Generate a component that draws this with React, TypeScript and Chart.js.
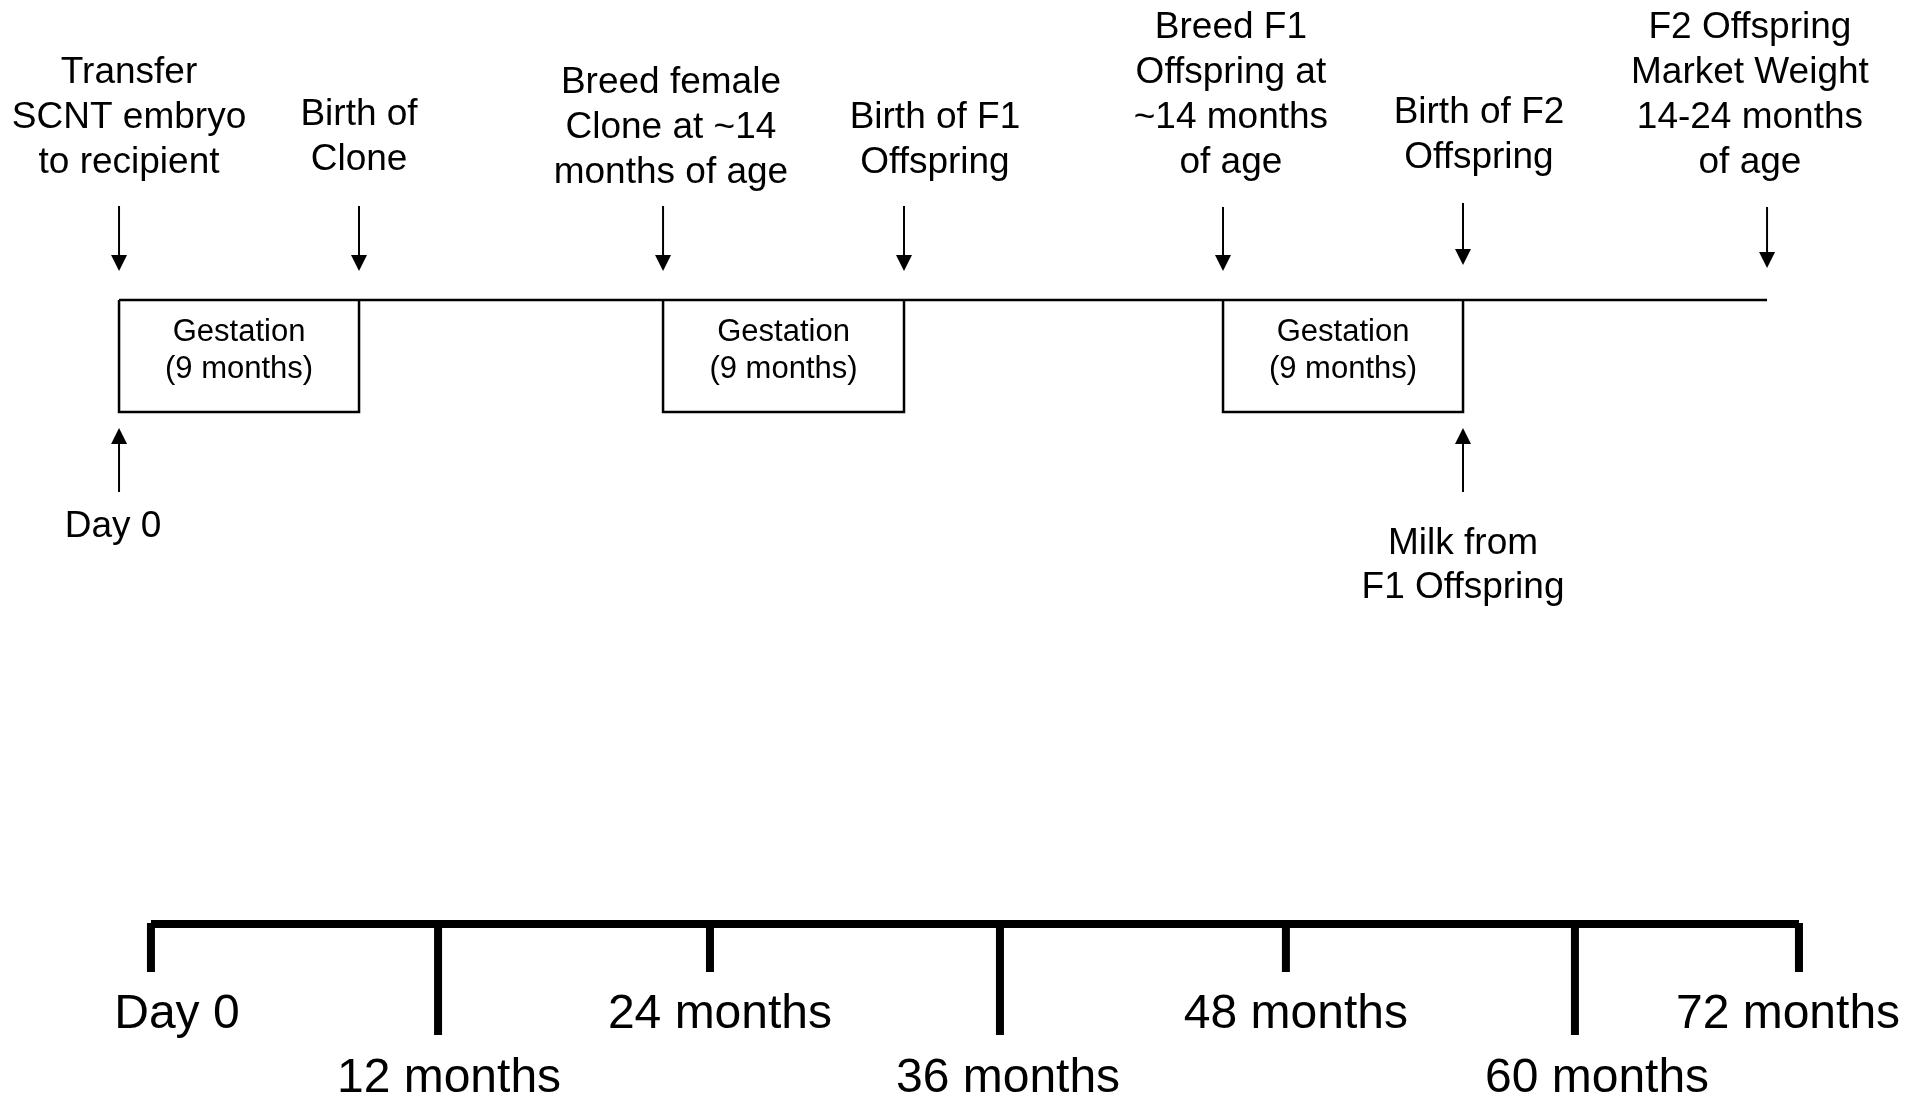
import { useEffect, useRef } from "react";
import { Chart, registerables } from "chart.js";

Chart.register(...registerables);

// ---------- data (x positions, in % of figure width) ----------
const eventPositions = [6.19, 18.67, 34.48, 47.01, 63.6, 76.08, 91.89];
const eventLabels = [
  ["Transfer", "SCNT embryo", "to recipient"],
  ["Birth of", "Clone"],
  ["Breed female", "Clone at ~14", "months of age"],
  ["Birth of F1", "Offspring"],
  ["Breed F1", "Offspring at", "~14 months", "of age"],
  ["Birth of F2", "Offspring"],
  ["F2 Offspring", "Market Weight", "14-24 months", "of age"],
];
const eventLabelCenters = [6.71, 18.67, 34.89, 48.62, 64.01, 76.91, 91.0];
const gestationStartEvents = [0, 2, 4];
const gestationLabel = ["Gestation", "(9 months)"];
const noteLabels = [["Day 0"], ["Milk from", "F1 Offspring"]];
const notePositions = [6.19, 76.08];
const noteLabelCenters = [5.88, 76.08];
const axisTickLabels = ["Day 0", "12 months", "24 months", "36 months", "48 months", "60 months", "72 months"];
const axisTickPositions = [7.85, 22.78, 36.92, 52.0, 66.87, 81.9, 93.55];
const axisLabelPositions = [9.2, 23.35, 37.44, 52.42, 67.39, 83.05, 92.98];

// ---------- layout (vertical rows, styles) ----------
const W = 1923;
const H = 1100;
const FONT = '"Liberation Sans", Arial, sans-serif';
const Y_TIMELINE = 300;
const Y_BOX_BOTTOM = 412;
const Y_AXIS = 924;
const Y_TICK_SHORT = 972;
const Y_TICK_LONG = 1035;
const labelFirstBaseline = [83, 125, 93, 128, 38, 123, 38];
const arrowTop = [206, 206, 206, 206, 207, 203, 207];
const arrowTip = [271, 271, 271, 271, 271, 265, 268];
const upArrowTip = 428;
const upArrowBottom = 492;
const noteFirstBaseline = [537, 554];

export default function App() {
  const ref = useRef<HTMLCanvasElement | null>(null);

  useEffect(() => {
    document.body.style.margin = "0";
    document.body.style.overflow = "hidden";
    const canvas = ref.current;
    if (!canvas) return;

    const datasets: any[] = [];
    const lineDs = (data: { x: number; y: number }[], width: number) => ({
      type: "line",
      data,
      borderColor: "#000",
      borderWidth: width,
      pointRadius: 0,
      showLine: true,
      fill: false,
      tension: 0,
      clip: false,
      borderCapStyle: "butt",
      borderJoinStyle: "miter",
    });

    // top timeline
    datasets.push(
      lineDs(
        [
          { x: eventPositions[0], y: Y_TIMELINE },
          { x: eventPositions[eventPositions.length - 1], y: Y_TIMELINE },
        ],
        2.5
      )
    );
    // gestation boxes
    gestationStartEvents.forEach((i) => {
      const a = eventPositions[i];
      const b = eventPositions[i + 1];
      datasets.push(
        lineDs(
          [
            { x: a, y: Y_TIMELINE },
            { x: a, y: Y_BOX_BOTTOM },
            { x: b, y: Y_BOX_BOTTOM },
            { x: b, y: Y_TIMELINE },
          ],
          2.5
        )
      );
    });
    // bottom axis
    datasets.push(
      lineDs(
        [
          { x: axisTickPositions[0], y: Y_AXIS },
          { x: axisTickPositions[axisTickPositions.length - 1], y: Y_AXIS },
        ],
        8
      )
    );
    axisTickPositions.forEach((p, i) => {
      datasets.push(
        lineDs(
          [
            { x: p, y: Y_AXIS - 1 },
            { x: p, y: i % 2 === 0 ? Y_TICK_SHORT : Y_TICK_LONG },
          ],
          8
        )
      );
    });

    const drawPlugin = {
      id: "timelineText",
      afterDatasetsDraw(chart: any) {
        const ctx = chart.ctx as CanvasRenderingContext2D;
        const xs = chart.scales.x;
        const ys = chart.scales.y;
        const px = (v: number) => xs.getPixelForValue(v);
        const py = (v: number) => ys.getPixelForValue(v);
        ctx.save();
        ctx.fillStyle = "#000";
        ctx.strokeStyle = "#000";
        ctx.textAlign = "center";
        ctx.textBaseline = "alphabetic";

        const arrow = (x: number, from: number, tip: number) => {
          const dir = tip > from ? 1 : -1;
          const head = 16;
          ctx.lineWidth = 2;
          ctx.beginPath();
          ctx.moveTo(x, py(from));
          ctx.lineTo(x, py(tip - dir * head));
          ctx.stroke();
          ctx.beginPath();
          ctx.moveTo(x - 8, py(tip - dir * head));
          ctx.lineTo(x + 8, py(tip - dir * head));
          ctx.lineTo(x, py(tip));
          ctx.closePath();
          ctx.fill();
        };

        // event arrows + labels
        ctx.font = `37px ${FONT}`;
        eventPositions.forEach((p, i) => {
          arrow(px(p), arrowTop[i], arrowTip[i]);
          eventLabels[i].forEach((line, k) => {
            ctx.fillText(line, px(eventLabelCenters[i]), py(labelFirstBaseline[i] + k * 45));
          });
        });

        // notes with up arrows
        notePositions.forEach((p, i) => {
          arrow(px(p), upArrowBottom, upArrowTip);
          noteLabels[i].forEach((line, k) => {
            ctx.fillText(line, px(noteLabelCenters[i]), py(noteFirstBaseline[i] + k * 44));
          });
        });

        // gestation text
        ctx.font = `31px ${FONT}`;
        gestationStartEvents.forEach((i) => {
          const c = (eventPositions[i] + eventPositions[i + 1]) / 2;
          gestationLabel.forEach((line, k) => {
            ctx.fillText(line, px(c), py(341 + k * 37));
          });
        });

        // axis labels
        ctx.font = `48px ${FONT}`;
        axisTickLabels.forEach((t, i) => {
          ctx.fillText(t, px(axisLabelPositions[i]), py(i % 2 === 0 ? 1028 : 1092));
        });
        ctx.restore();
      },
    };

    const chart = new Chart(canvas, {
      type: "scatter",
      data: { datasets },
      options: {
        animation: false,
        responsive: false,
        maintainAspectRatio: false,
        devicePixelRatio: 1,
        layout: { padding: 0 },
        plugins: { legend: { display: false }, tooltip: { enabled: false } },
        events: [],
        scales: {
          x: { type: "linear", min: 0, max: 100, display: false },
          y: { type: "linear", min: 0, max: H, reverse: true, display: false },
        },
      },
      plugins: [drawPlugin],
    } as any);

    return () => chart.destroy();
  }, []);

  return (
    <div style={{ width: W, height: H, background: "#fff" }}>
      <canvas ref={ref} width={W} height={H} style={{ display: "block" }} />
    </div>
  );
}
